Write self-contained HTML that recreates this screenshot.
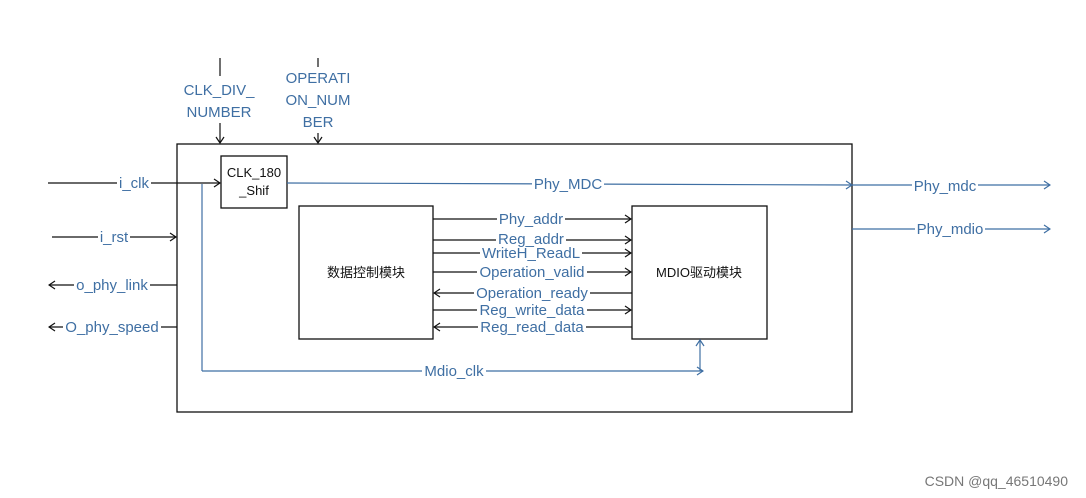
<!DOCTYPE html>
<html><head><meta charset="utf-8"><style>
html,body{margin:0;padding:0;background:#fff;}
svg{display:block}
text{font-family:"Liberation Sans","Noto Sans CJK SC",sans-serif;}
.b{fill:#3f6fa3;font-size:15px;}
.k{fill:#111;font-size:13px;}
</style></head><body>
<svg width="1086" height="498" viewBox="0 0 1086 498" xmlns="http://www.w3.org/2000/svg">
<defs>
<marker id="ak" markerWidth="8" markerHeight="10" refX="7" refY="5" orient="auto" markerUnits="userSpaceOnUse"><path d="M1,1 L7,5 L1,9" fill="none" stroke="#111" stroke-width="1.2"/></marker>
<marker id="ab" markerWidth="8" markerHeight="10" refX="7" refY="5" orient="auto" markerUnits="userSpaceOnUse"><path d="M1,1 L7,5 L1,9" fill="none" stroke="#3f6fa3" stroke-width="1.2"/></marker>
</defs>
<g fill="none" stroke="#111" stroke-width="1.3">
<rect x="177" y="144" width="675" height="268"/>
<rect x="221" y="156" width="66" height="52"/>
<rect x="299" y="206" width="134" height="133"/>
<rect x="632" y="206" width="135" height="133"/>
</g>
<g stroke="#111" stroke-width="1.2" fill="none">
<line x1="220" y1="58" x2="220" y2="76"/>
<line x1="220" y1="123" x2="220" y2="143" marker-end="url(#ak)"/>
<line x1="318" y1="58" x2="318" y2="67"/>
<line x1="318" y1="133" x2="318" y2="143" marker-end="url(#ak)"/>
<line x1="48" y1="183" x2="220" y2="183" marker-end="url(#ak)"/>
<line x1="52" y1="237" x2="176" y2="237" marker-end="url(#ak)"/>
<line x1="177" y1="285" x2="49" y2="285" marker-end="url(#ak)"/>
<line x1="177" y1="327" x2="49" y2="327" marker-end="url(#ak)"/>
<line x1="433" y1="219" x2="631" y2="219" marker-end="url(#ak)"/>
<line x1="433" y1="240" x2="631" y2="240" marker-end="url(#ak)"/>
<line x1="433" y1="253" x2="631" y2="253" marker-end="url(#ak)"/>
<line x1="433" y1="272" x2="631" y2="272" marker-end="url(#ak)"/>
<line x1="632" y1="293" x2="434" y2="293" marker-end="url(#ak)"/>
<line x1="433" y1="310" x2="631" y2="310" marker-end="url(#ak)"/>
<line x1="632" y1="327" x2="434" y2="327" marker-end="url(#ak)"/>
</g>
<g stroke="#3f6fa3" stroke-width="1.2" fill="none">
<line x1="287" y1="183" x2="852" y2="185" marker-end="url(#ab)"/>
<line x1="852" y1="185" x2="1050" y2="185" marker-end="url(#ab)"/>
<line x1="852" y1="229" x2="1050" y2="229" marker-end="url(#ab)"/>
<line x1="202" y1="184" x2="202" y2="371"/>
<line x1="202" y1="371" x2="703" y2="371" marker-end="url(#ab)"/>
<line x1="700" y1="371" x2="700" y2="340" marker-end="url(#ab)"/>
</g>
<g fill="#fff">
<rect x="117" y="176" width="34" height="15"/>
<rect x="98" y="230" width="32" height="15"/>
<rect x="74" y="278" width="76" height="15"/>
<rect x="63" y="320" width="98" height="15"/>
<rect x="532" y="176" width="72" height="15"/>
<rect x="912" y="178" width="66" height="15"/>
<rect x="915" y="222" width="70" height="15"/>
<rect x="422" y="364" width="64" height="15"/>
<rect x="497" y="212" width="68" height="15"/>
<rect x="496" y="233" width="70" height="14"/>
<rect x="480" y="247" width="102" height="13"/>
<rect x="477" y="265" width="110" height="15"/>
<rect x="474" y="286" width="116" height="15"/>
<rect x="477" y="303" width="110" height="14"/>
<rect x="478" y="320" width="108" height="15"/>
</g>
<g class="b" text-anchor="middle">
<text x="219" y="95">CLK_DIV_</text>
<text x="219" y="117">NUMBER</text>
<text x="318" y="83">OPERATI</text>
<text x="318" y="105">ON_NUM</text>
<text x="318" y="127">BER</text>
<text x="134" y="188">i_clk</text>
<text x="114" y="242">i_rst</text>
<text x="112" y="290">o_phy_link</text>
<text x="112" y="332">O_phy_speed</text>
<text x="568" y="189">Phy_MDC</text>
<text x="945" y="191">Phy_mdc</text>
<text x="950" y="234">Phy_mdio</text>
<text x="454" y="376">Mdio_clk</text>
<text x="531" y="224">Phy_addr</text>
<text x="531" y="244">Reg_addr</text>
<text x="531" y="258">WriteH_ReadL</text>
<text x="532" y="277">Operation_valid</text>
<text x="532" y="298">Operation_ready</text>
<text x="532" y="315">Reg_write_data</text>
<text x="532" y="332">Reg_read_data</text>
</g>
<g class="k" text-anchor="middle">
<text x="254" y="177">CLK_180</text>
<text x="254" y="195">_Shif</text>
<text x="366" y="277">数据控制模块</text>
<text x="699" y="277">MDIO驱动模块</text>
</g>
<text x="1068" y="486" text-anchor="end" style="font-size:14px;fill:#777">CSDN @qq_46510490</text>
</svg>
</body></html>
